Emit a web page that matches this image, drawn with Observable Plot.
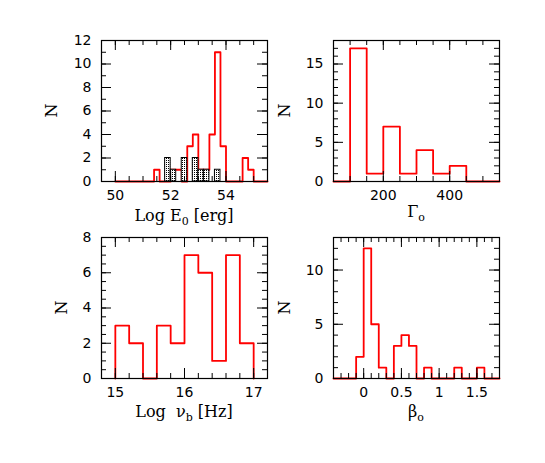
<!DOCTYPE html>
<html><head><meta charset="utf-8">
<script src="https://cdn.jsdelivr.net/npm/d3@7"></script>
<script src="https://cdn.jsdelivr.net/npm/@observablehq/plot@0.6"></script>
<style>
body{margin:0;background:#fff;}
#wrap{position:relative;width:545px;height:463px;background:#fff;}
#wrap svg{position:absolute;left:0;top:0;}
</style></head><body><div id="wrap"></div>
<script>
// ---- Panel 1: Log E0 [erg] ----
const e0Edges = [50.0,50.2,50.4,50.6,50.8,51.0,51.2,51.4,51.6,51.8,52.0,52.2,52.4,52.6,52.8,53.0,53.2,53.4,53.6,53.8,54.0,54.2,54.4,54.6,54.8,55.0,55.2,55.4,55.5];
const e0Counts = [0,0,0,0,0,0,0,1,0,0,1,1,0,3,4,1,1,4,11,3,0,0,0,2,1,0,0,0];
const e0SubLo = [51.8,52.0,52.4,52.8,53.0,53.2,53.6];
const e0SubHi = [52.0,52.2,52.6,53.0,53.2,53.4,53.8];
const e0SubCounts = [2,1,2,2,1,1,1];
const e0XTicks = [50,52,54];
const e0YTicks = [0,2,4,6,8,10,12];
// ---- Panel 2: Gamma0 ----
const gEdges = [50,100,150,200,250,300,350,400,450,500,550];
const gCounts = [0,17,1,7,1,4,1,2,0,0];
const gXTicks = [200,400];
const gYTicks = [0,5,10,15];
// ---- Panel 3: Log nu_b [Hz] ----
const nuEdges = [15.0,15.2,15.4,15.6,15.8,16.0,16.2,16.4,16.6,16.8,17.0];
const nuCounts = [3,2,0,3,2,7,6,1,7,2];
const nuXTicks = [15,16,17];
const nuYTicks = [0,2,4,6,8];
// ---- Panel 4: beta0 ----
const bEdges = [-0.4,-0.3,-0.2,-0.1,0.0,0.1,0.2,0.3,0.4,0.5,0.6,0.7,0.8,0.9,1.0,1.1,1.2,1.3,1.4,1.5,1.6,1.7,1.8];
const bCounts = [0,0,0,2,12,5,1,0,3,4,3,0,1,0,0,0,1,0,0,1,0,0];
const bXTicks = [0,0.5,1,1.5];
const bYTicks = [0,5,10];

const W = 545, H = 463;
const wrap = document.getElementById("wrap");

function stepPoints(edges, counts) {
  const pts = [{x: edges[0], y: 0}];
  counts.forEach((c, i) => pts.push({x: edges[i], y: c}));
  const n = edges.length - 1;
  pts.push({x: edges[n], y: counts[counts.length - 1]});
  pts.push({x: edges[n], y: 0});
  return pts;
}

function panel(o) {
  const ih = o.y1 - o.y0, iw = o.x1 - o.x0;
  const majL = 10, minL = 5;
  const id = (d) => d;
  const fmt = (d) => String(d);
  const svg = Plot.plot({
    width: W, height: H,
    marginLeft: o.x0, marginRight: W - o.x1, marginTop: o.y0, marginBottom: H - o.y1,
    x: {domain: o.xDomain},
    y: {domain: o.yDomain},
    style: {background: "transparent", fontFamily: "DejaVu Sans", fontSize: "14px", color: "black", overflow: "visible"},
    marks: [
      ...o.marks,
      Plot.tickX(o.xMinor, {x: id, insetTop: ih - minL, stroke: "black"}),
      Plot.tickX(o.xMinor, {x: id, insetBottom: ih - minL, stroke: "black"}),
      Plot.tickX(o.xMajor, {x: id, insetTop: ih - majL, stroke: "black"}),
      Plot.tickX(o.xMajor, {x: id, insetBottom: ih - majL, stroke: "black"}),
      Plot.tickY(o.yMinor, {y: id, insetRight: iw - minL, stroke: "black"}),
      Plot.tickY(o.yMinor, {y: id, insetLeft: iw - minL, stroke: "black"}),
      Plot.tickY(o.yMajor, {y: id, insetRight: iw - majL, stroke: "black"}),
      Plot.tickY(o.yMajor, {y: id, insetLeft: iw - majL, stroke: "black"}),
      Plot.frame({stroke: "black", strokeWidth: 1.2}),
      Plot.axisX(o.xMajor, {tickSize: 0, tickPadding: 9, label: null, fontSize: 14, tickFormat: fmt}),
      Plot.axisY(o.yMajor, {tickSize: 0, tickPadding: 10, label: null, fontSize: 14, tickFormat: fmt})
    ]
  });
  wrap.appendChild(svg);
  return svg;
}

function addLabel(svg, x, y, parts, rotate) {
  const t = d3.select(svg).append("text")
    .attr("font-family", "DejaVu Serif")
    .attr("font-size", 16)
    .attr("fill", "black")
    .attr("text-anchor", "middle");
  if (rotate) t.attr("transform", `translate(${x},${y}) rotate(-90)`).attr("dy", "0.35em");
  else t.attr("x", x).attr("y", y);
  parts.forEach(p => {
    if (p.sub) t.append("tspan").attr("dy", 4).attr("font-size", 11).text(p.t);
    else if (p.after) t.append("tspan").attr("dy", -4).text(p.t);
    else t.append("tspan").text(p.t);
  });
}

function stepLine(edges, counts) {
  return Plot.line(stepPoints(edges, counts), {x: "x", y: "y", curve: "step-after", stroke: "red", strokeWidth: 1.8});
}

// Panel 1
const s1 = panel({
  x0: 101, x1: 267, y0: 40, y1: 181,
  xDomain: [49.5, 55.5], yDomain: [0, 12],
  xMajor: e0XTicks, xMinor: d3.range(49.5, 55.51, 0.5),
  yMajor: e0YTicks, yMinor: d3.range(0, 12.01, 1),
  marks: [
    stepLine(e0Edges, e0Counts),
    Plot.rectY(d3.range(e0SubLo.length), {x1: i => e0SubLo[i], x2: i => e0SubHi[i], y: i => e0SubCounts[i], fill: "url(#dots)", stroke: "black", strokeWidth: 1})
  ]
});
const defs = d3.select(s1).insert("defs", ":first-child");
const pat = defs.append("pattern").attr("id", "dots").attr("patternUnits", "userSpaceOnUse").attr("width", 2).attr("height", 2);
pat.append("rect").attr("width", 2).attr("height", 2).attr("fill", "white");
pat.append("rect").attr("width", 1).attr("height", 1).attr("fill", "black");
addLabel(s1, 184, 220.5, [{t: "Log E"}, {t: "0", sub: true}, {t: " [erg]", after: true}]);
addLabel(s1, 51, 110.5, [{t: "N"}], true);

// Panel 2
const s2 = panel({
  x0: 333, x1: 499, y0: 40, y1: 181,
  xDomain: [50, 550], yDomain: [0, 18],
  xMajor: gXTicks, xMinor: d3.range(50, 551, 50),
  yMajor: gYTicks, yMinor: d3.range(0, 18.01, 1),
  marks: [stepLine(gEdges, gCounts)]
});
addLabel(s2, 416, 217, [{t: "Γ"}, {t: "o", sub: true}]);
addLabel(s2, 284, 110.5, [{t: "N"}], true);

// Panel 3
const s3 = panel({
  x0: 101, x1: 267, y0: 237, y1: 378,
  xDomain: [14.8, 17.2], yDomain: [0, 8],
  xMajor: nuXTicks, xMinor: d3.range(14.8, 17.21, 0.2),
  yMajor: nuYTicks, yMinor: d3.range(0, 8.01, 0.5),
  marks: [stepLine(nuEdges, nuCounts)]
});
addLabel(s3, 184, 417, [{t: "Log  ν"}, {t: "b", sub: true}, {t: " [Hz]", after: true}]);
addLabel(s3, 61, 307.5, [{t: "N"}], true);

// Panel 4
const s4 = panel({
  x0: 333, x1: 499, y0: 237, y1: 378,
  xDomain: [-0.4, 1.8], yDomain: [0, 13],
  xMajor: bXTicks, xMinor: d3.range(-0.4, 1.81, 0.1),
  yMajor: bYTicks, yMinor: d3.range(0, 13.01, 1),
  marks: [stepLine(bEdges, bCounts)]
});
addLabel(s4, 416, 417, [{t: "β"}, {t: "o", sub: true}]);
addLabel(s4, 284, 307.5, [{t: "N"}], true);
</script>
</body></html>
